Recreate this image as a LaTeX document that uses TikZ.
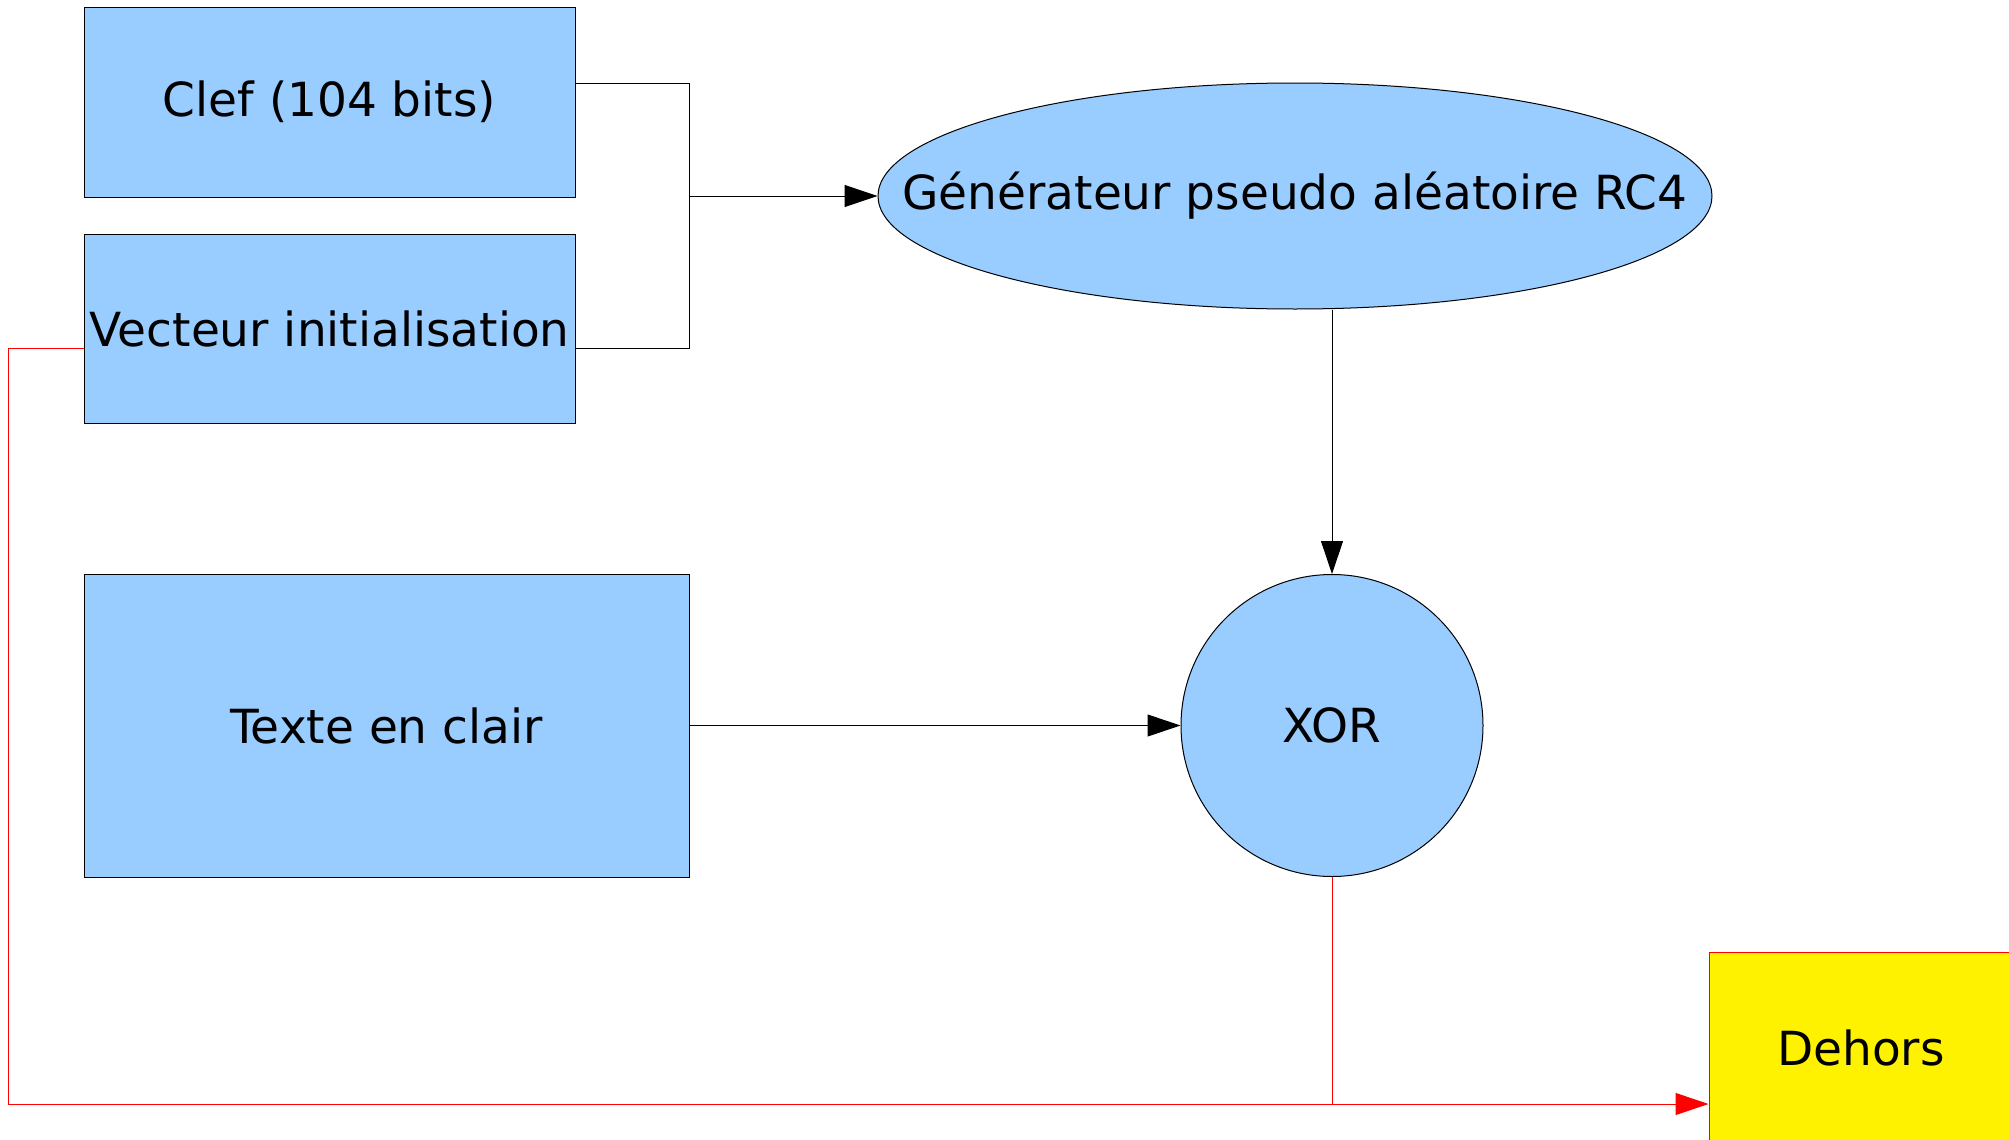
\documentclass[tikz,border=0pt]{standalone}
\usepackage{fontspec}
\setmainfont{DejaVu Sans}
\usetikzlibrary{arrows.meta,shapes.geometric,calc}
\definecolor{boxblue}{HTML}{99CCFF}
\begin{document}
\begin{tikzpicture}[x=0.5pt,y=-0.5pt,
  every node/.style={font=\fontsize{23.5pt}{28pt}\selectfont, inner sep=0pt},
  bluebox/.style={draw=black, line width=0.5pt, fill=boxblue, rectangle},
  conn/.style={draw=black, line width=0.5pt},
  redconn/.style={draw=red, line width=0.5pt},
  headarrow/.style={-{Triangle[length=16.5pt,width=11pt]}}
]
\useasboundingbox (0,0) rectangle (2009,1140);
\fill[white] (0,0) rectangle (2009,1140);

\node[bluebox, minimum width=245.5pt, minimum height=95pt] (clef) at (329.5,102) {Clef (104 bits)};
\node[bluebox, minimum width=245.5pt, minimum height=94.5pt] (vec) at (329.5,328.5) {Vecteur initialisation};
\node[bluebox, minimum width=302.5pt, minimum height=151.5pt] (texte) at (386.5,725.5) {Texte en clair};
\node[draw=black, line width=0.5pt, ellipse, fill=boxblue, minimum width=417pt, minimum height=113pt] (gen) at (1295,196) {};
\node (gentext) at (gen.center) {Générateur pseudo aléatoire RC4};
\node[draw=black, line width=0.5pt, circle, fill=boxblue, minimum size=151pt] (xor) at (1332,725.5) {XOR};
\node[draw=red, line width=0.5pt, fill=yellow, rectangle, minimum width=152pt, minimum height=96pt] (dehors) at (1861,1048) {Dehors};

\coordinate (k1) at (689,83);
\coordinate (k2) at (689,348);
\coordinate (k3) at (689,196);
\draw[conn] (clef.east |- k1) -- (k1) -- (k2) -- (vec.east |- k2);
\draw[conn, headarrow] (k3) -- (gen.west);
\draw[conn, headarrow] (xor.north |- gen.south) -- (xor.north);
\draw[conn, headarrow] (texte.east) -- (xor.west);

\coordinate (r1) at (8,348);
\coordinate (r2) at (8,1104);
\draw[redconn, headarrow] (vec.west |- r1) -- (r1) -- (r2) -- (dehors.west |- r2);
\draw[redconn] (xor.south) -- (xor.south |- r2);
\end{tikzpicture}
\end{document}
